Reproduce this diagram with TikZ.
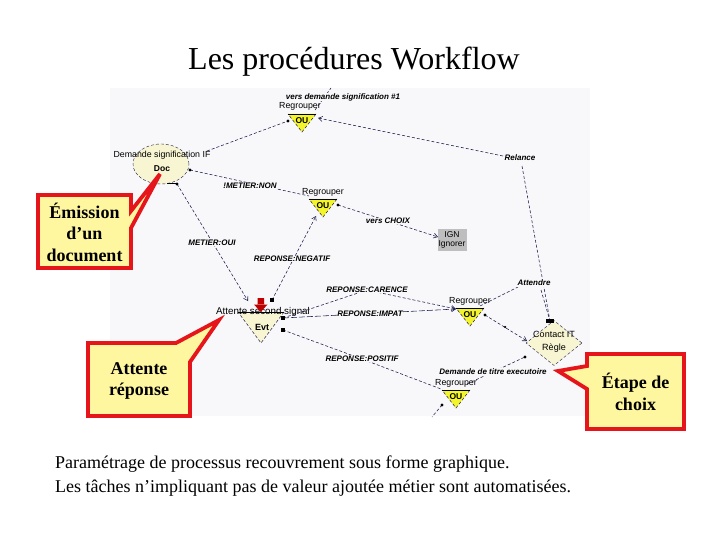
\documentclass[tikz,border=0pt]{standalone}
\usepackage{fontspec}
\setmainfont{Liberation Serif}
\setsansfont{Liberation Sans}
\usetikzlibrary{arrows.meta,shapes.geometric}
\definecolor{navy}{HTML}{1A1A4A}
\definecolor{callfill}{HTML}{FFF7A0}
\definecolor{calred}{HTML}{E6141B}
\definecolor{ouyel}{HTML}{F4F42A}
\definecolor{pale}{HTML}{F8F5D2}
\definecolor{scrbg}{HTML}{F8F8FA}
\definecolor{igngray}{HTML}{BEBEBE}
\newcommand{\OUtri}[3]{%
  \fill[ouyel] (#1-14,#2) -- (#1+14,#2) -- (#1,#2+18) -- cycle;
  \draw[navy,densely dashed,line width=0.5pt] (#1+14,#2) -- (#1,#2+18) -- (#1-14,#2);
  \draw[black,line width=0.9pt] (#1-14,#2) -- (#1+14,#2);
  \node[outxt] (#3) at (#1,#2+6.5) {OU};}
\tikzset{
  conn/.style={draw=navy,line width=0.55pt,dash pattern=on 3pt off 2pt},
  arr/.style={-{Straight Barb[length=4pt,width=5pt]}},
  dot/.style={circle,fill=black,inner sep=0,minimum size=3.4pt},
  sq/.style={rectangle,fill=black,inner sep=0,minimum size=4pt},
  lab/.style={font=\sffamily\bfseries\itshape\fontsize{8}{9}\selectfont,fill=scrbg,inner sep=0.6pt},
  small/.style={font=\sffamily\fontsize{8.8}{10}\selectfont,inner sep=0.5pt},
  outxt/.style={font=\sffamily\bfseries\fontsize{8.5}{9}\selectfont,inner sep=0.5pt},
  calltxt/.style={font=\bfseries\fontsize{18}{21.5}\selectfont,align=center},
  callbox/.style={draw=calred,line width=3.8pt,fill=callfill,line join=miter},
  bodytxt/.style={font=\fontsize{18}{24}\selectfont,anchor=base west,inner sep=0}
}
\begin{document}
\begin{tikzpicture}[x=1pt,y=-1pt]
\useasboundingbox (0,0) rectangle (720,540);
\fill[white] (0,0) rectangle (720,540);
\fill[scrbg] (110,88) rectangle (590,416);

% title
\node[font=\fontsize{32}{36}\selectfont] (title) at (354,62) {Les procédures Workflow};

% ---------- diagram shapes ----------
\node[ellipse,draw=navy,densely dashed,fill=pale,minimum width=56,minimum height=40,inner sep=0] (doc) at (161,164) {};
\draw[black,line width=0.9pt] (167,183.5) -- (176,183.5);
\node[small,font=\sffamily\fontsize{8.8}{10}\selectfont] (docl) at (162,155) {Demande signification IF};
\node[small,font=\sffamily\bfseries\fontsize{8.5}{10}\selectfont] (doct) at (162,169) {Doc};

\OUtri{302}{114}{ou1}
\node[small] (ou1l) at (300,106) {Regrouper};
\OUtri{323}{199}{ou2}
\node[small] (ou2l) at (323,192) {Regrouper};
\OUtri{470}{308}{ou3}
\node[small] (ou3l) at (470,301) {Regrouper};
\OUtri{456}{390}{ou4}
\node[small] (ou4l) at (456,383) {Regrouper};

% IGN box
\node[rectangle,fill=igngray,minimum width=29,minimum height=21,inner sep=0] (ign) at (452,240) {};
\node[small,align=center,font=\sffamily\fontsize{8.5}{9.5}\selectfont] (ignt) at (452,240) {IGN\\Ignorer};

% Evt triangle
\fill[pale] (238,312) -- (284,312) -- (261,343) -- cycle;
\draw[navy,densely dashed,line width=0.5pt] (284,312) -- (261,343) -- (238,312);
\draw[black,line width=0.9pt] (238,312.5) -- (284,312.5);
\node[small,font=\sffamily\fontsize{9.8}{11}\selectfont] (evtl) at (263,312) {Attente second signal};
\node[small,font=\sffamily\bfseries\fontsize{9}{10}\selectfont] (evt) at (262,327) {Evt};
% red arrow
\fill[red!75!black] (257.5,298) rectangle (264,305) (254,304.5) -- (267.5,304.5) -- (260.75,312) -- cycle;

% diamond
\node[diamond,draw=navy,densely dashed,fill=pale,minimum width=56,minimum height=45,inner sep=0] (dia) at (554,343) {};
\node[small,align=center,font=\sffamily\fontsize{9}{12.5}\selectfont] (diat) at (554,342) {Contact IT\\Règle};

% ---------- ports ----------
\coordinate (pDocTR) at (207,151);
\coordinate (pDocR) at (190,170);
\coordinate (pDocB) at (177,184);
\coordinate (pOU1L) at (288,121);
\coordinate (pOU1R) at (318,118);
\coordinate (pOU1T) at (315,110);
\coordinate (topout) at (331,88);
\coordinate (pOU2TL) at (309,196);
\coordinate (pOU2R) at (338,205);
\coordinate (pOU2B) at (316,216);
\coordinate (pIGN) at (438,237);
\coordinate (pEvtTL) at (248,301);
\coordinate (pEvtT) at (272,300);
\coordinate (pEvtR1) at (283,318);
\coordinate (pEvtR2) at (283,330);
\coordinate (pOU3L) at (456,309);
\coordinate (pOU3R) at (485,315);
\coordinate (pOU3T) at (480,306);
\coordinate (pDiaT) at (550,321);
\coordinate (pDiaL) at (527,341);
\coordinate (pDiaBL) at (525,357);
\coordinate (pOU4L) at (441,389);
\coordinate (pOU4TR) at (467,384);
\coordinate (pOU4B) at (442,405);
\coordinate (botout) at (432,417);
\coordinate (relA) at (503,156);
\coordinate (relB) at (522,166);
\coordinate (attA) at (518,287);
\coordinate (attB) at (541,290);
\coordinate (cA) at (367,290);
\coordinate (cP) at (362,359);

% ---------- connectors ----------
\draw[conn] (pDocTR) -- (pOU1L);
\draw[conn,arr] (relA) -- (pOU1R);
\draw[conn] (relB) -- (pDiaT);
\draw[conn] (pOU1T) -- (topout);
\draw[conn] (pDocR) -- (pOU2TL);
\draw[conn,arr] (pDocB) -- (pEvtTL);
\draw[conn,arr] (pEvtT) -- (pOU2B);
\draw[conn,arr] (pOU2R) -- (pIGN);
\draw[conn,arr] (pEvtR1) -- (cA) -- (pOU3L);
\draw[conn,arr,dash pattern=on 6pt off 2pt] (pEvtR1) -- (pOU3L);
\draw[conn] (pEvtR2) -- (cP) -- (pOU4L);
\draw[conn,arr] (pOU3R) -- (pDiaL);
\draw[conn] (pOU3T) -- (attA);
\draw[conn] (attB) -- (pDiaT);
\draw[conn] (pOU4TR) -- (pDiaBL);
\draw[conn] (pOU4B) -- (botout);

% ---------- connector labels ----------
\node[lab] (lvers) at (343,97) {vers demande signification \#1};
\node[lab] (lrel) at (520,158) {Relance};
\node[lab] (lmn) at (250,186) {!METIER:NON};
\node[lab] (lmo) at (212,243) {METIER:OUI};
\node[lab] (lchoix) at (388,221) {vers CHOIX};
\node[lab] (lneg) at (292,259) {REPONSE:NEGATIF};
\node[lab] (lcar) at (367,290) {REPONSE:CARENCE};
\node[lab] (latt) at (534,283) {Attendre};
\node[lab] (limp) at (370,314) {REPONSE:IMPAT};
\node[lab] (lpos) at (362,359) {REPONSE:POSITIF};
\node[lab] (ltitre) at (493,372) {Demande de titre executoire};

% ---------- port markers ----------
\node[dot] (mDocR) at (pDocR) {};
\node[dot] (mDocB) at (pDocB) {};
\node[dot] (mOU1L) at (pOU1L) {};
\node[dot] (mOU2R) at (pOU2R) {};
\node[sq] (mEvtT) at (pEvtT) {};
\node[sq] (mEvtR1) at (pEvtR1) {};
\node[sq] (mEvtR2) at (pEvtR2) {};
\node[dot] (mOU3R) at (pOU3R) {};
\node[dot] (mDiaBL) at (pDiaBL) {};
\node[dot] (mOU4B) at (pOU4B) {};
\node[dot,minimum size=2.5pt] (mMid) at (505,327) {};
\node[rectangle,fill=black,minimum width=8pt,minimum height=4pt,inner sep=0] (mDiaT) at (pDiaT) {};

% ---------- callouts ----------
\draw[callbox] (38,195) -- (131,195) -- (131,211) -- (160,174) -- (131,228) -- (131,268) -- (38,268) -- cycle;
\node[calltxt] (c1) at (84.5,232) {Émission\\d’un\\document};
\draw[callbox] (88,343) -- (176,343) -- (219,320) -- (190,362) -- (190,416) -- (88,416) -- cycle;
\node[calltxt] (c2) at (139,381) {Attente\\réponse};
\draw[callbox] (587,354) -- (684,354) -- (684,429) -- (587,429) -- (587,389) -- (558,371) -- (587,366) -- cycle;
\node[calltxt] (c3) at (635.5,392) {Étape de\\choix};

% ---------- body text ----------
\node[bodytxt] (t1) at (55,468) {Paramétrage de processus recouvrement sous forme graphique.};
\node[bodytxt] (t2) at (55,492) {Les tâches n’impliquant pas de valeur ajoutée métier sont automatisées.};
\end{tikzpicture}
\end{document}
